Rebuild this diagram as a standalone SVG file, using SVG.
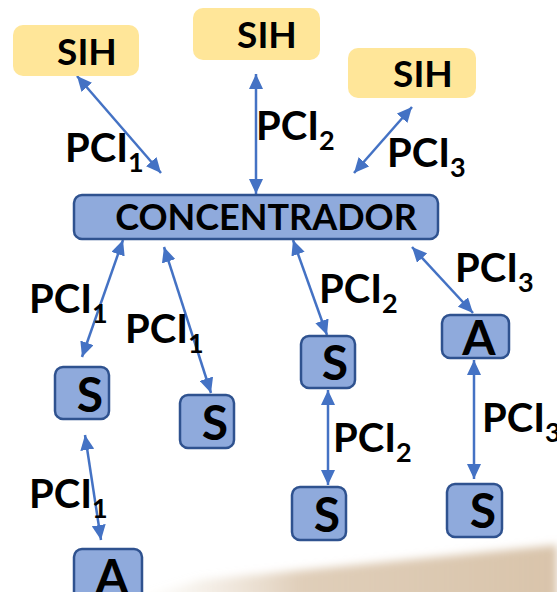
<svg xmlns="http://www.w3.org/2000/svg" width="557" height="592" viewBox="0 0 557 592">
<style>
.sih{fill:#FFE699;stroke:none}
.nd{fill:#8FAADC;stroke:#2F528F;stroke-width:2.5}
.t{font-family:Lato,"Open Sans","Liberation Sans",sans-serif;font-weight:bold;fill:#000}
.ts{font-size:37px;text-anchor:middle}
.tn{font-size:48px;text-anchor:middle}
.tc{font-size:36px;text-anchor:middle}
.tp{font-size:40px}
.sb{font-size:27px}
.ar{stroke:#4472C4;stroke-width:2.5;fill:none;marker-start:url(#ah);marker-end:url(#ah)}
</style>
<defs>
<marker id="ah" markerUnits="userSpaceOnUse" markerWidth="16" markerHeight="14" refX="15" refY="7" orient="auto-start-reverse" viewBox="0 0 16 14">
<path d="M0,0 L15,7 L0,14 z" fill="#4472C4"/>
</marker>
<linearGradient id="bg" x1="0" y1="0" x2="1" y2="0">
<stop offset="0" stop-color="#e8dccb" stop-opacity="0"/>
<stop offset="0.4" stop-color="#d8c2a8" stop-opacity="0.8"/>
<stop offset="1" stop-color="#d9c4ab"/>
</linearGradient>
<filter id="bl" x="-10%" y="-50%" width="120%" height="200%"><feGaussianBlur stdDeviation="4"/></filter>
</defs>
<rect width="557" height="592" fill="#fff"/>
<polygon points="130,600 200,580 557,545 557,600" fill="url(#bg)" filter="url(#bl)"/>

<g id="connectors">
<line class="ar" x1="77" y1="76" x2="161" y2="173"/>
<line class="ar" x1="256" y1="74" x2="256" y2="194"/>
<line class="ar" x1="412" y1="107" x2="354" y2="173"/>
<line class="ar" x1="123" y1="240" x2="82" y2="357"/>
<line class="ar" x1="164" y1="247" x2="211" y2="393"/>
<line class="ar" x1="293" y1="240" x2="327" y2="335"/>
<line class="ar" x1="412" y1="247" x2="473" y2="313"/>
<line class="ar" x1="474" y1="360" x2="474" y2="479"/>
<line class="ar" x1="328" y1="390" x2="328" y2="485"/>
<line class="ar" x1="85" y1="435" x2="101" y2="540"/>
</g>

<g id="labels">
<text class="t tp" x="65" y="162">PCI<tspan class="sb" dy="10">1</tspan></text>
<text class="t tp" x="256" y="140">PCI<tspan class="sb" dy="10">2</tspan></text>
<text class="t tp" x="387" y="167">PCI<tspan class="sb" dy="10">3</tspan></text>
<text class="t tp" x="29" y="313">PCI<tspan class="sb" dy="10">1</tspan></text>
<text class="t tp" x="125" y="343">PCI<tspan class="sb" dy="10">1</tspan></text>
<text class="t tp" x="319" y="303">PCI<tspan class="sb" dy="10">2</tspan></text>
<text class="t tp" x="455" y="282">PCI<tspan class="sb" dy="10">3</tspan></text>
<text class="t tp" x="333" y="452">PCI<tspan class="sb" dy="10">2</tspan></text>
<text class="t tp" x="482" y="432">PCI<tspan class="sb" dy="10">3</tspan></text>
<text class="t tp" x="29" y="508">PCI<tspan class="sb" dy="10">1</tspan></text>
</g>

<g id="sih1"><rect class="sih" x="13" y="25" width="126" height="51" rx="10"/><text class="t ts" x="87" y="65">SIH</text></g>
<g id="sih2"><rect class="sih" x="193" y="8" width="127" height="52" rx="10"/><text class="t ts" x="267" y="48">SIH</text></g>
<g id="sih3"><rect class="sih" x="348" y="48" width="128" height="50" rx="10"/><text class="t ts" x="423" y="87">SIH</text></g>

<g id="concentrador"><rect class="nd" x="74" y="195" width="364" height="44" rx="8"/><text class="t tc" x="266" y="230">CONCENTRADOR</text></g>

<g id="s1"><rect class="nd" x="55" y="367" width="54" height="52" rx="8"/><text class="t tn" x="90" y="412">S</text></g>
<g id="s2"><rect class="nd" x="180" y="395" width="54" height="53" rx="8"/><text class="t tn" x="215" y="440">S</text></g>
<g id="s3"><rect class="nd" x="301" y="336" width="54" height="52" rx="8"/><text class="t tn" x="335" y="380">S</text></g>
<g id="a1"><rect class="nd" x="442" y="315" width="67" height="43" rx="8"/><text class="t tn" x="479" y="355">A</text></g>
<g id="s4"><rect class="nd" x="292" y="487" width="54" height="53" rx="8"/><text class="t tn" x="327" y="532">S</text></g>
<g id="s5"><rect class="nd" x="447" y="484" width="55" height="53" rx="8"/><text class="t tn" x="483" y="528">S</text></g>
<g id="a2"><rect class="nd" x="74" y="549" width="68" height="60" rx="8"/><text class="t tn" x="112" y="594">A</text></g>
</svg>
